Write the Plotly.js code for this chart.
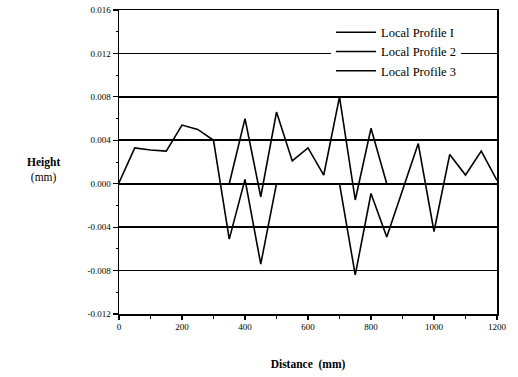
<!DOCTYPE html>
<html>
<head>
<meta charset="utf-8">
<script src="https://cdn.plot.ly/plotly-3.0.1.min.js"></script>
<style>html,body{margin:0;padding:0;background:#fff;}#chart{width:518px;height:377px;}</style>
</head>
<body>
<div id="chart"></div>
<script>
const profile1X = [0, 50, 100, 150, 200, 250, 300, 350, 400, 450, 500];
const profile1Y = [0.0001, 0.0033, 0.0031, 0.0030, 0.0054, 0.0050, 0.0040, -0.0051, 0.0004, -0.0074, 0.0000];
const profile2X = [350, 400, 450, 500, 550, 600, 650, 700, 750, 800, 850];
const profile2Y = [0.0000, 0.0060, -0.0012, 0.0066, 0.0021, 0.0033, 0.0008, 0.0080, -0.0015, 0.0051, 0.0000];
const profile3X = [700, 750, 800, 850, 950, 1000, 1050, 1100, 1150, 1200];
const profile3Y = [0.0000, -0.0084, -0.0009, -0.0049, 0.0037, -0.0044, 0.0027, 0.0008, 0.0030, 0.0003];
const seriesNames = ['Local Profile I', 'Local Profile 2', 'Local Profile 3'];
const yTickVals = [-0.012, -0.008, -0.004, 0, 0.004, 0.008, 0.012, 0.016];
const yTickText = ['-0.012', '-0.008', '-0.004', '0.000', '0.004', '0.008', '0.012', '0.016'];
const xTickVals = [0, 200, 400, 600, 800, 1000, 1200];
const xTickText = ['0', '200', '400', '600', '800', '1000', '1200'];

const serif = "Times New Roman, Liberation Serif, DejaVu Serif, serif";
const lineStyle = {color: '#000', width: 1.6};
const traces = [
  {x: profile1X, y: profile1Y, name: seriesNames[0]},
  {x: profile2X, y: profile2Y, name: seriesNames[1]},
  {x: profile3X, y: profile3Y, name: seriesNames[2]}
].map(t => Object.assign(t, {type: 'scatter', mode: 'lines', line: lineStyle}));

const layout = {
  width: 518, height: 377,
  margin: {l: 119, r: 21, t: 10, b: 63},
  paper_bgcolor: '#fff', plot_bgcolor: '#fff',
  font: {family: serif, color: '#000', size: 9},
  showlegend: true,
  legend: {
    x: 0.561, y: 0.975, xanchor: 'left', yanchor: 'top',
    bgcolor: '#fff', borderwidth: 0, itemwidth: 40,
    font: {family: serif, size: 12.5, color: '#000'},
    tracegroupgap: 0
  },
  xaxis: {
    range: [0, 1200],
    tickvals: xTickVals, ticktext: xTickText,
    ticks: 'outside', ticklen: 4, tickwidth: 1.2, tickcolor: '#000',
    minor: {dtick: 100, ticks: 'outside', ticklen: 3, tickcolor: '#000', tickwidth: 1.2, showgrid: false},
    showgrid: false, zeroline: false,
    showline: true, linecolor: '#000', linewidth: 1.5, mirror: true,
    tickfont: {family: serif, size: 9, color: '#000'},
    title: {text: '<b>Distance  (mm)</b>', font: {family: serif, size: 11.5, color: '#000'}, standoff: 28}
  },
  yaxis: {
    range: [-0.012, 0.016],
    tickvals: yTickVals, ticktext: yTickText,
    ticks: 'outside', ticklen: 5, tickwidth: 1.2, tickcolor: '#000',
    minor: {dtick: 0.002, tick0: 0, ticks: 'outside', ticklen: 2, tickcolor: '#000', tickwidth: 1, showgrid: false},
    showgrid: true, gridcolor: '#000', gridwidth: 1.6,
    zeroline: false,
    showline: true, linecolor: '#000', linewidth: 1.5, mirror: true,
    tickfont: {family: serif, size: 9, color: '#000'}
  },
  annotations: [{
    text: '<b>Height</b><br>(mm)', xref: 'paper', yref: 'paper',
    x: -0.201, y: 0.474, xanchor: 'center', yanchor: 'middle',
    showarrow: false, align: 'center',
    font: {family: serif, size: 11.5, color: '#000'}
  }]
};

Plotly.newPlot('chart', traces, layout, {displayModeBar: false, staticPlot: true});
</script>
</body>
</html>
